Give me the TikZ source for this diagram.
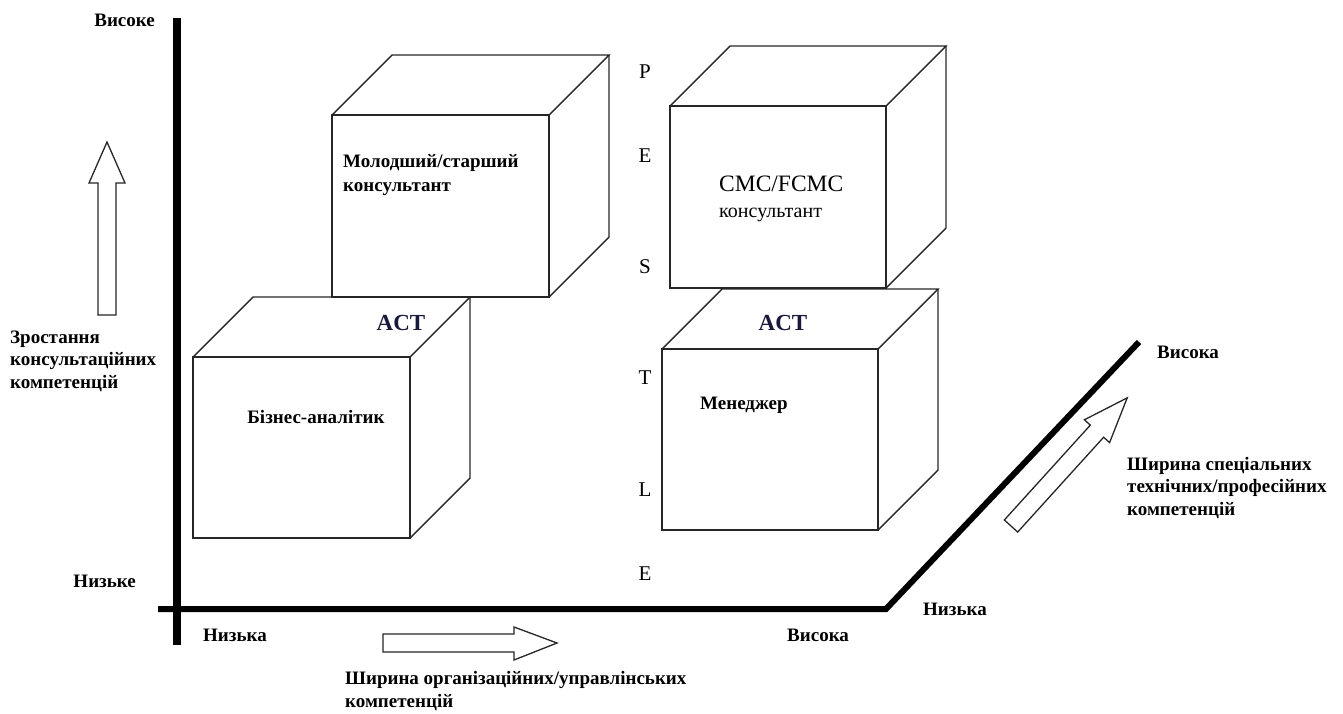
\documentclass[tikz,border=0pt]{standalone}
\usepackage{fontspec}
\setmainfont{Liberation Serif}
\begin{document}
\begin{tikzpicture}[x=1pt,y=-1pt,
  cubeline/.style={draw=black!85,line width=1.4pt,line join=miter},
  axisline/.style={draw=black,line width=7pt},
  hollow/.style={draw=black!85,line width=1.3pt,fill=white,line join=miter},
  lbl/.style={font=\fontsize{19}{22.5}\selectfont\bfseries,inner sep=0pt,align=left},
  boxlbl/.style={font=\fontsize{19}{24}\selectfont\bfseries,inner sep=0pt,align=left},
  act/.style={font=\fontsize{23}{26}\selectfont\bfseries,text={rgb,255:red,25;green,25;blue,60},inner sep=0pt},
  pestle/.style={font=\fontsize{21}{24}\selectfont,inner sep=0pt},
]
\useasboundingbox (0,0) rectangle (1343,713);
\newcommand\mycube[4]{%
  \draw[cubeline] (#1,#2) rectangle (#3,#4);
  \draw[cubeline] (#1,#2) -- ++(60,-60) -- (#3+60,#2-60) -- (#3,#2);
  \draw[cubeline] (#3+60,#2-60) -- (#3+60,#4-60) -- (#3,#4);
}
% cubes
\mycube{193}{357}{410}{538}
\mycube{332}{115}{549}{297}
\mycube{670}{106}{886}{288}
\mycube{662}{349}{878}{530}

% axes
\coordinate (vtop) at (177,18);
\coordinate (vbot) at (177,645);
\coordinate (hleft) at (158,609);
\coordinate (origin3) at (886,609);
\coordinate (dtop) at (1139,342);
\draw[axisline,line width=7.5pt] (vtop) -- (vbot);
\draw[axisline,line width=6pt,line join=miter] (hleft) -- (origin3) -- (dtop);

% hollow arrows
\draw[hollow] (98,315) -- (98,183) -- (89,183) -- (107,142) -- (125,183) -- (116,183) -- (116,315) -- cycle;
\draw[hollow] (383,634) -- (514,634) -- (514,627) -- (557,643) -- (514,660) -- (514,652) -- (383,652) -- cycle;
\begin{scope}[shift={(1011,526)},rotate=47.8]
\draw[hollow] (0,-9) -- (128,-9) -- (128,-17) -- (173,0) -- (128,17) -- (128,9) -- (0,9) -- cycle;
\end{scope}

% axis labels
\node[lbl,anchor=east] (vhigh) at (155,20) {Високе};
\node[lbl,anchor=east] (vlow) at (136,581) {Низьке};
\node[lbl,anchor=west] (hlow) at (203,635) {Низька};
\node[lbl,anchor=west] (hhigh) at (787,635) {Висока};
\node[lbl,anchor=west] (dlow) at (923,609) {Низька};
\node[lbl,anchor=west] (dhigh) at (1157,352) {Висока};
\node[lbl,anchor=west] (vtitle) at (10,361) {Зростання\\консультаційних\\компетенцій};
\node[lbl,anchor=west] (htitle) at (345,691) {Ширина організаційних/управлінських\\компетенцій};
\node[lbl,anchor=west] (dtitle) at (1127,488) {Ширина спеціальних\\технічних/професійних\\компетенцій};

% box labels
\node[boxlbl,anchor=west] (junior) at (343,175) {Молодший/старший\\консультант};
\node[boxlbl,anchor=center] (analyst) at (316,417) {Бізнес-аналітик};
\node[boxlbl,anchor=west] (manager) at (700,405) {Менеджер};
\node[font=\fontsize{23.5}{26}\selectfont,inner sep=0pt,anchor=west] (cmc) at (719,184) {CMC/FCMC};
\node[font=\fontsize{20}{24}\selectfont,inner sep=0pt,anchor=west] (cons) at (719,215) {консультант};
\node[act] (act1) at (401,323) {ACT};
\node[act] (act2) at (783,323) {ACT};

% PESTLE
\node[pestle] (pP) at (645,72) {P};
\node[pestle] (pE) at (645,156) {E};
\node[pestle] (pS) at (645,267) {S};
\node[pestle] (pT) at (645,378) {T};
\node[pestle] (pL) at (645,490) {L};
\node[pestle] (pE2) at (645,574) {E};
\end{tikzpicture}
\end{document}
